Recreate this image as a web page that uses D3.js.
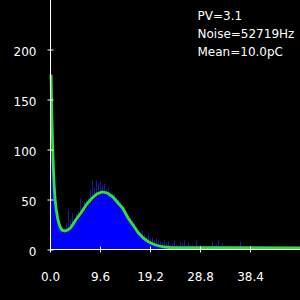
<!DOCTYPE html>
<html>
<head>
<meta charset="utf-8">
<script src="https://cdn.jsdelivr.net/npm/d3@7"></script>
<style>
  html, body { margin: 0; padding: 0; background: #000; }
  svg { display: block; }
  text { font-family: "DejaVu Sans", sans-serif; fill: #fff; }
</style>
</head>
<body>
<div id="chart" width="300" height="300"></div>
<script>
// ヒストグラムのビン幅(pC)
const bin_width = 0.384;
// 各ビンのカウント(明るい青)
const counts = [92, 74, 50, 34, 25, 20, 18, 17, 18, 20, 21, 23, 26, 28, 31, 33, 36, 39, 41, 44,
    46, 49, 51, 52, 54, 55, 55, 55, 54, 53, 52, 50, 48, 46, 43, 41, 38, 35, 32, 29,
    26, 23, 20, 17, 15, 13, 11, 9, 8, 7, 6, 5, 5, 4, 4, 4, 3, 3, 3, 3,
    3, 3, 3, 3, 3, 3, 3, 2, 3, 2, 3, 2, 2, 3, 2, 2, 2, 2, 2, 2,
    2, 2, 2, 2, 2, 2, 2, 2, 2, 2, 2, 2, 2, 2, 2, 1, 1, 1, 1, 1,
    1, 1, 1, 1, 1, 1, 1, 1, 1, 1, 1, 1, 1, 1, 1, 1, 1, 1, 1, 1,
    1, 1, 1, 1, 1];
// 各ビンの揺らぎの最大値(暗い青)
const peaks = [100, 80, 53, 37, 27, 24, 22, 21, 26, 40, 30, 36, 30, 35, 38, 51, 42, 48, 50, 52,
    60, 69, 62, 69, 66, 68, 64, 66, 60, 62, 58, 56, 55, 52, 50, 47, 44, 41, 38, 34,
    31, 29, 27, 22, 19, 17, 19, 15, 12, 16, 11, 12, 9, 11, 9, 8, 7, 9, 6, 8,
    5, 6, 9, 5, 4, 8, 6, 9, 5, 7, 4, 4, 3, 9, 3, 4, 3, 4, 3, 3,
    3, 8, 4, 5, 9, 3, 6, 3, 3, 3, 3, 3, 3, 3, 3, 8, 3, 2, 2, 2,
    2, 2, 2, 2, 2, 2, 2, 2, 2, 2, 2, 2, 2, 2, 2, 2, 2, 2, 2, 2,
    2, 2, 2, 2, 2];
// フィット曲線
const fit_x = [0.2, 0.35, 0.5, 0.65, 0.8, 0.96, 1.2, 1.5, 1.9, 2.3, 2.8, 3.4, 4.0, 5.0, 6.0, 7.0, 8.0, 9.0,
    10.0, 11.0, 12.0, 13.0, 14.0, 15.0, 16.0, 17.0, 18.0, 19.0, 20.0, 21.0, 22.0, 23.0, 48.0];
const fit_y = [175, 135, 105, 82, 64, 51, 40, 30, 23, 19.5, 18.5, 19.5, 22, 30, 37, 45, 51, 55.5,
    57.5, 56.5, 53, 47, 41, 31.5, 24, 16.5, 11, 7.5, 5, 3.5, 2.5, 2, 1.5];
// 目盛
const x_ticks = [0, 9.6, 19.2, 28.8, 38.4];
const y_ticks = [0, 50, 100, 150, 200];
// 右上の表示
const info_lines = ["PV=3.1", "Noise=52719Hz", "Mean=10.0pC"];

const width = 300;
const height = 300;

const svg = d3.select("#chart").append("svg")
    .attr("width", width)
    .attr("height", height)
;
svg.append("rect")
    .attr("width", width)
    .attr("height", height)
    .attr("fill", "#000")
;

const x = d3.scaleLinear().domain([0, 48]).range([50, 300]);
const y = d3.scaleLinear().domain([0, 200]).range([249.5, 49.5]);

// 揺らぎ(暗い青)
svg.append("g").selectAll("rect")
    .data(peaks)
    .enter()
    .append("rect")
    .attr("x", function(d, i){ return x(i*bin_width); })
    .attr("y", function(d){ return y(d); })
    .attr("width", 1)
    .attr("height", function(d){ return y(0) - y(d); })
    .attr("fill", "#1a1aa8")
;

// ヒストグラム(明るい青)
svg.append("g").selectAll("rect")
    .data(counts)
    .enter()
    .append("rect")
    .attr("x", function(d, i){ return x(i*bin_width); })
    .attr("y", function(d){ return y(d); })
    .attr("width", x(bin_width) - x(0))
    .attr("height", function(d){ return y(0) - y(d); })
    .attr("fill", "#0000ff")
;

// フィット曲線
const line = d3.line()
    .x(function(d){ return x(d[0]); })
    .y(function(d){ return y(d[1]); })
;
svg.append("path")
    .datum(d3.zip(fit_x, fit_y))
    .attr("d", line)
    .attr("fill", "none")
    .attr("stroke", "#30e040")
    .attr("stroke-width", 2.8)
;

// 軸線
svg.append("line")
    .attr("x1", 50.5).attr("y1", 0)
    .attr("x2", 50.5).attr("y2", 249.5)
    .attr("stroke", "#fff")
;
svg.append("line")
    .attr("x1", 50).attr("y1", 249.5)
    .attr("x2", 300).attr("y2", 249.5)
    .attr("stroke", "#fff")
;

// Y軸の目盛
const y_axis = svg.append("g")
    .attr("transform", "translate(50.5,0)")
    .call(d3.axisLeft(y).tickValues(y_ticks).tickSize(3).tickSizeOuter(0).tickPadding(11))
;
y_axis.select(".domain").remove();
y_axis.selectAll("line").attr("x1", 3).attr("x2", -3).attr("stroke", "#fff");
y_axis.selectAll("text")
    .attr("font-size", 12)
    .attr("font-family", "DejaVu Sans")
    .attr("fill", "#fff")
    .attr("dy", "0.5em")
;

// X軸の目盛
const x_axis = svg.append("g")
    .attr("transform", "translate(0,249.5)")
    .call(d3.axisBottom(x).tickValues(x_ticks).tickFormat(d3.format(".1f")).tickSize(3).tickSizeOuter(0).tickPadding(20))
;
x_axis.select(".domain").remove();
x_axis.selectAll("line").attr("y1", -3).attr("y2", 3).attr("stroke", "#fff");
x_axis.selectAll("text")
    .attr("font-size", 12)
    .attr("font-family", "DejaVu Sans")
    .attr("fill", "#fff")
;

// 右上のテキスト
svg.selectAll("text.info")
    .data(info_lines)
    .enter()
    .append("text")
    .attr("class", "info")
    .text(function(d){ return d; })
    .attr("x", 197.5)
    .attr("y", function(d, i){ return 20 + 18*i; })
    .attr("font-size", 12)
;
</script>
</body>
</html>
